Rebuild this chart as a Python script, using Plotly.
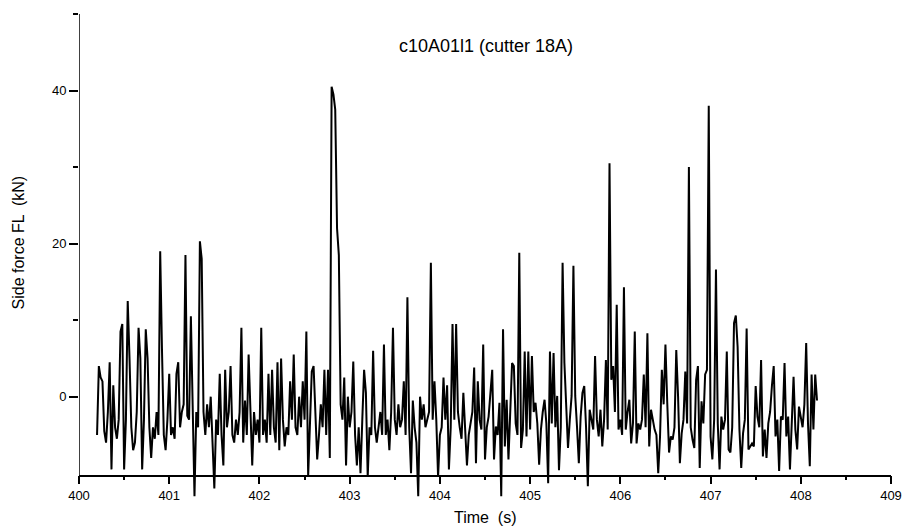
import numpy as np
import plotly.graph_objects as go

# Sampling: 0.02 s starting at 400.20 s
t_start = 400.20
dt = 0.02

force_400 = [-5, 4, 2.5, 2, -4.5, -6, -2, 4.5, -9.5, 1.5,
             -4, -5.5, -3, 8.5, 9.5, -9.5, -3, 12.5, 5, -4,
             -7, -6, -2, 9, 5, -9.5, -3, 8.8, 5, -4,
             -8, -4, -5.5, -2, -5, 19, 6, -5, -7, -3,
             3, -5, -4, -5.5, 3, 4.5, -4, -2, -1, 18.5]
force_401 = [-2.5, -3, 10.5, -4, -13, -2, -4, 20.3, 18, -2,
             -5, -1, -4, 0, -6, -12, -3, -5, 3, -5,
             -9, 3.5, -4, -2, 4, -5, -6, -3, -5, -2,
             9, -6, -0.5, -5, 5.5, -3, -9, -2, -5, -3,
             -6, 9, -5, -3, -6, 3, -5, 3.5, -4, -6]
force_402 = [4.5, -7, 5, -3, -6.5, -4, -5, 2, -3, 5.5,
             -4, -5, 0, -4, 2, -3, 8.5, -10.4, -2, 3.3,
             4, -3, -8.2, -5, -1, -4, 3.5, -5, 3.5, -8,
             40.5, 39.5, 37.5, 22, 18.5, -1, -3, 2.5, -9, 0,
             -4, -2, 4.6, -5, -9, -4, -10, -3, 3.5, 0.5]
force_403 = [-10.5, -4, -5, 6, -4, -6, -4, -2, -5, 6.8,
             -5, -3, -7, -2, 9, -3, -5, -1, -4, -3,
             2, -5, 13, -4, -10, -0.5, -4, -6, -13, 0,
             -3, -1, -4, -3, -2, 17.5, -3, 2, -3, -10.5,
             -5, -4, 2.5, -3, 1.5, -9.5, -4, 9.5, -3, 9.5]
force_404 = [-2, -4, -5.5, 0.5, -4, -9, -5, -3.5, -2, 3.8,
             -8.7, 2, -3, -4.3, 6.8, -8.2, -4, -2.6, 0.7, 3.5,
             -8.2, -3.9, -5, -0.8, -13, 8.8, -6.5, -0.4, -8.2, -0.4,
             4.4, 4, -3.5, -5, 18.8, -6.7, -4.3, 5.9, -5.2, 5.9,
             -4.3, 5.3, -2, -0.8, -3.5, -8.9, -4.3, -2, -0.4, -3.5]
force_405 = [-11.3, 5.9, -3.5, 5.7, -4, 0.1, -9.6, -4, 17.5, 4.4,
             -0.8, -6.7, -3, 0.1, 17.1, 0.1, -4, -8.7, -2.6, 0.5,
             1.4, -4, -11.7, -1.7, -3, -4.3, 5.3, -3, -5.2, -1.7,
             -6.5, -3, 4.8, -4.3, 30.5, 2.2, 4, -2, 12, -4.3,
             -3, -5, 14.3, -4.3, -2, -0.4, -6.1, -3.5, 8.5, -6.1]
force_406 = [-3.5, -4.3, -3, 2.9, -4, 8.3, -6.5, -1.7, -3, -4.3,
             -5, -10, -5.2, 3.5, -1, 6.8, -0.8, -7.3, -5.2, -5.6,
             -4, 6.1, 0, -8.7, -4.8, -3, 3.3, -3.5, 30, -4,
             -5.6, -6.7, 2.2, 4, -9.3, -0.6, -3.5, 2.9, 3.5, 38,
             -5.2, -8.2, -3, 16.6, -3.5, -9.5, -2.6, -4.3, -3, 5.9]
force_407 = [-6.9, -7.3, -4, 9.6, 10.6, 6.5, -4.3, -9.3, -4.8, -3,
             8.9, -6.9, -6.5, -6.1, -6.5, 1.4, -2.6, -4, 4.8, -7.8,
             -4.3, -8, -3.5, -2, 1.4, 4, -5.2, -3, -9.7, -2.6,
             -3, 4.4, -5.2, -2.6, -9.5, -3.9, 2.6, -4.3, -6.9, -1.3,
             -3, -4, -1, 7, -3.5, -9.1, 2.9, -4.3, 2.9, -0.5]

force = (force_400 + force_401 + force_402 + force_403 +
         force_404 + force_405 + force_406 + force_407)
time = t_start + dt * np.arange(len(force))

x_ticks = [400, 401, 402, 403, 404, 405, 406, 407, 408, 409]
y_ticks = [0, 20, 40]

title_text = "c10A01l1 (cutter 18A)"
x_title = "Time  (s)"
y_title = "Side force FL  (kN)"

FONT = "Liberation Sans, Arial, sans-serif"
Y_MIN_VIEW = -13.5
Y_AXIS_MIN = -10.3
Y_MAX = 50

fig = go.Figure()
fig.add_trace(go.Scatter(x=time, y=force, mode="lines",
                         line=dict(color="black", width=2),
                         showlegend=False, hoverinfo="skip"))

xpos = (Y_AXIS_MIN - Y_MIN_VIEW) / (Y_MAX - Y_MIN_VIEW)

fig.update_layout(
    width=914, height=529,
    margin=dict(l=79, r=15, t=14, b=29),
    paper_bgcolor="white", plot_bgcolor="white",
    font=dict(family=FONT, size=13, color="black"),
    xaxis=dict(range=[400, 409], anchor="free", position=xpos,
               showline=True, linecolor="black", linewidth=1.5,
               ticks="outside", ticklen=8, tickwidth=1.5, tickcolor="black",
               tickvals=x_ticks, ticktext=[str(v) for v in x_ticks],
               minor=dict(dtick=0.5, tick0=400, ticks="outside", ticklen=4,
                          tickwidth=1.5, tickcolor="black"),
               showgrid=False, zeroline=False,
               tickfont=dict(family=FONT, size=13)),
    yaxis=dict(range=[Y_MIN_VIEW, Y_MAX], showline=False,
               ticks="outside", ticklen=9, tickwidth=1.5, tickcolor="black",
               tickvals=y_ticks, ticktext=[str(v) for v in y_ticks],
               minor=dict(tickvals=[10, 30, 50], ticks="outside", ticklen=5,
                          tickwidth=1.5, tickcolor="black"),
               showgrid=False, zeroline=False,
               tickfont=dict(family=FONT, size=13)),
    shapes=[dict(type="line", xref="x", yref="y", x0=400, x1=400,
                 y0=Y_AXIS_MIN, y1=Y_MAX, line=dict(color="black", width=1.5))],
    annotations=[
        dict(text=title_text, xref="paper", yref="paper", x=0.501, y=0.934,
             showarrow=False, xanchor="center", yanchor="middle",
             font=dict(family=FONT, size=18)),
        dict(text=x_title, xref="paper", yref="paper", x=0.501, y=-0.035,
             showarrow=False, xanchor="center", yanchor="middle",
             font=dict(family=FONT, size=16)),
        dict(text=y_title, xref="paper", yref="paper", x=-0.0744, y=0.529,
             showarrow=False, xanchor="center", yanchor="middle", textangle=-90,
             font=dict(family=FONT, size=16)),
    ],
)

fig.write_html("out.html")
